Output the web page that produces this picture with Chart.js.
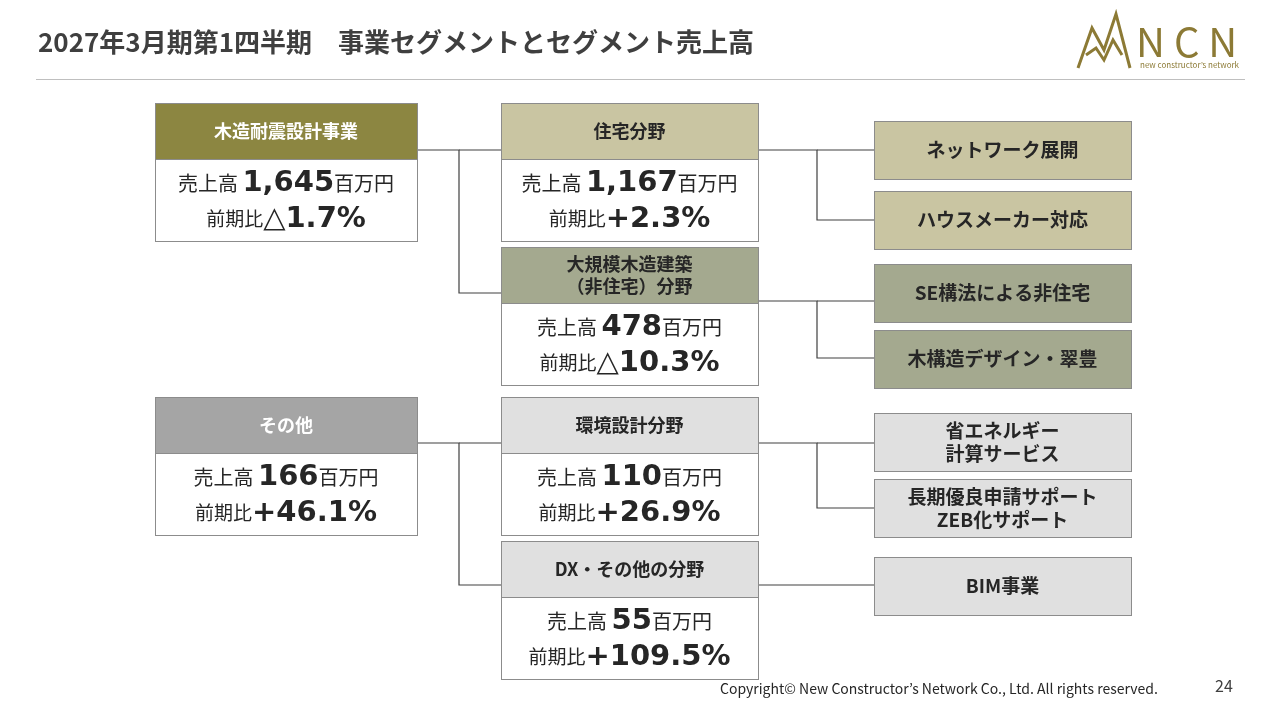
<!DOCTYPE html>
<html><head><meta charset="utf-8">
<script src="https://cdn.jsdelivr.net/npm/chart.js@4"></script>
<style>html,body{margin:0;padding:0;background:#fff}#c{display:block}</style>
</head><body>
<div style="width:1280px;height:720px"><canvas id="c"></canvas></div>
<script>
// ---- data ----
const segments = ["木造耐震設計事業", "その他"];
const segmentSales = ["1,645", "166"];
const segmentYoY = ["△1.7%", "+46.1%"];
const fields = ["住宅分野", "大規模木造建築\n（非住宅）分野", "環境設計分野", "DX・その他の分野"];
const fieldSales = ["1,167", "478", "110", "55"];
const fieldYoY = ["+2.3%", "△10.3%", "+26.9%", "+109.5%"];
const businesses = ["ネットワーク展開", "ハウスメーカー対応", "SE構法による非住宅", "木構造デザイン・翠豊",
  "省エネルギー\n計算サービス", "長期優良申請サポート\nZEB化サポート", "BIM事業"];
const titleText = "2027年3月期第1四半期　事業セグメントとセグメント売上高";
const footerText = "Copyright© New Constructor’s Network Co., Ltd. All rights reserved.";
const pageNo = "24";

// ---- layout ----
const F = '"Noto Sans CJK JP","Noto Sans",sans-serif';
const NF = '"DejaVu Sans","Noto Sans CJK JP",sans-serif';
const segLayout = [{x:155,y:103,fill:'#8c8641',tc:'#fff'},{x:155,y:397,fill:'#a5a5a5',tc:'#fff'}];
const fieldLayout = [{x:501,y:103,fill:'#c9c5a2'},{x:501,y:247,fill:'#a4a98f'},{x:501,y:397,fill:'#e0e0e0'},{x:501,y:541,fill:'#e0e0e0'}];
const busLayout = [{y:121,fill:'#c9c5a2'},{y:191,fill:'#c9c5a2'},{y:264,fill:'#a4a98f'},{y:330,fill:'#a4a98f'},
  {y:413,fill:'#e0e0e0'},{y:479,fill:'#e0e0e0'},{y:557,fill:'#e0e0e0'}];
const links = [
 [[417,150],[459,150],[459,293],[501,293]],[[459,150],[501,150]],
 [[758,150],[817,150],[817,220],[874,220]],[[817,150],[874,150]],
 [[758,301],[817,301],[817,358],[874,358]],[[817,301],[874,301]],
 [[417,443],[459,443],[459,585],[501,585]],[[459,443],[501,443]],
 [[758,443],[817,443],[817,508],[874,508]],[[817,443],[874,443]],
 [[758,585],[874,585]]
];

const diagram = {
 id:'diagram',
 afterDraw(chart){
  const ctx = chart.ctx, sx = chart.scales.x, sy = chart.scales.y;
  const X = v => sx.getPixelForValue(v), Y = v => sy.getPixelForValue(v);
  ctx.save();
  ctx.textBaseline = 'middle';
  ctx.fillStyle = '#3f3f3f'; ctx.font = 'bold 26px '+F; ctx.textAlign='left';
  ctx.fillText(titleText, X(38), Y(42));
  ctx.strokeStyle = '#bfbfbf'; ctx.lineWidth = 1.2;
  ctx.beginPath(); ctx.moveTo(X(36),Y(79.5)); ctx.lineTo(X(1245),Y(79.5)); ctx.stroke();
  ctx.fillStyle = '#8c7a35'; ctx.font = '40px '+F; ctx.textAlign='left';
  ctx.fillText('N C N', X(1136), Y(42));
  ctx.font = '8px '+F; ctx.fillText('new constructor’s network', X(1140), Y(65));
  ctx.strokeStyle='#8c7a35'; ctx.lineWidth=3;
  ctx.beginPath(); ctx.moveTo(X(1078),Y(68)); ctx.lineTo(X(1092),Y(28)); ctx.lineTo(X(1104),Y(50));
  ctx.lineTo(X(1116),Y(14)); ctx.lineTo(X(1130),Y(68)); ctx.stroke();
  ctx.beginPath(); ctx.moveTo(X(1086),Y(55)); ctx.lineTo(X(1096),Y(48)); ctx.lineTo(X(1104),Y(60)); ctx.lineTo(X(1113),Y(40)); ctx.lineTo(X(1122),Y(55)); ctx.stroke();
  ctx.strokeStyle = '#404040'; ctx.lineWidth = 1.2;
  links.forEach(p=>{ctx.beginPath(); p.forEach((q,i)=> i?ctx.lineTo(X(q[0]),Y(q[1])):ctx.moveTo(X(q[0]),Y(q[1]))); ctx.stroke();});
  function box(x,y,w,h,fill){ctx.fillStyle=fill; ctx.fillRect(X(x),Y(y),X(x+w)-X(x),Y(y+h)-Y(y));
    ctx.strokeStyle='#8c8c8c'; ctx.lineWidth=1; ctx.strokeRect(X(x)+.5,Y(y)+.5,X(x+w)-X(x),Y(y+h)-Y(y));}
  function label(text,cx,cy,color,size){ctx.fillStyle=color; ctx.font='bold '+size+'px '+F; ctx.textAlign='center';
    const ls=text.split('\n'); ls.forEach((l,i)=>ctx.fillText(l,X(cx),Y(cy+(i-(ls.length-1)/2)*(size+4))));}
  function runs(parts,cx,cy){
    let w=0; parts.forEach(p=>{ctx.font=p[1]; w+=ctx.measureText(p[0]).width;});
    let x=X(cx)-w/2; ctx.textAlign='left'; ctx.fillStyle='#262626';
    parts.forEach(p=>{ctx.font=p[1]; ctx.fillText(p[0],x,Y(cy)); x+=ctx.measureText(p[0]).width;});}
  function card(x,y,w,name,fill,tc,sales,yoy){
    box(x,y,w,56,fill); label(name,x+w/2,y+28,tc,18);
    box(x,y+56,w,82,'#ffffff');
    runs([['売上高 ','20px '+F],[sales,'bold 29px '+NF],['百万円','20px '+F]],x+w/2,y+80);
    runs([['前期比','19px '+F],[yoy,'bold 29px '+NF]],x+w/2,y+116);
  }
  segments.forEach((s,i)=>card(segLayout[i].x,segLayout[i].y,262,s,segLayout[i].fill,segLayout[i].tc,segmentSales[i],segmentYoY[i]));
  fields.forEach((s,i)=>card(fieldLayout[i].x,fieldLayout[i].y,257,s,fieldLayout[i].fill,'#262626',fieldSales[i],fieldYoY[i]));
  businesses.forEach((s,i)=>{const L=busLayout[i]; box(874,L.y,257,58,L.fill); label(s,874+128.5,L.y+29,'#262626',19);});
  ctx.fillStyle='#262626'; ctx.font='14px '+F; ctx.textAlign='left';
  ctx.fillText(footerText, X(720), Y(689));
  ctx.fillStyle='#404040'; ctx.font='16px '+F; ctx.fillText(pageNo, X(1215), Y(686));
  ctx.restore();
 }
};

new Chart(document.getElementById('c'),{
 type:'scatter',
 data:{datasets:[{data:[],pointRadius:0}]},
 options:{responsive:true,maintainAspectRatio:false,animation:false,
  layout:{padding:0},
  plugins:{legend:{display:false},tooltip:{enabled:false}},
  scales:{x:{type:'linear',min:0,max:1280,display:false},y:{type:'linear',min:0,max:720,reverse:true,display:false}}},
 plugins:[diagram]
});
</script>
</body></html>
